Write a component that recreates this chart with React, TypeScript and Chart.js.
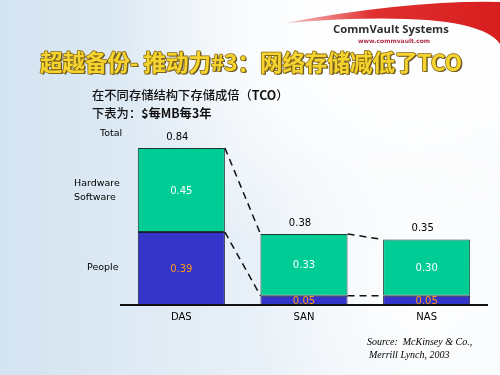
import React, { useEffect, useRef } from "react";
import { Chart, registerables } from "chart.js";

Chart.register(...registerables);

const categories = ["DAS", "SAN", "NAS"];
const peopleValues = [0.39, 0.05, 0.05];
const hwswValues = [0.45, 0.33, 0.3];
const totalLabels = ["0.84", "0.38", "0.35"];
const peopleLabels = ["0.39", "0.05", "0.05"];
const hwswLabels = ["0.45", "0.33", "0.30"];
const rowLabels = { total: "Total", hw: ["Hardware", "Software"], people: "People" };
const titleText = "超越备份- 推动力#3：网络存储减低了TCO";
const subtitle1Runs: [string, boolean][] = [["在不同存储结构下存储成倍（", false], ["TCO", true], ["）", false]];
const subtitle2Runs: [string, boolean][] = [["下表为：", false], ["$每MB每3年", true]];
const sourceLines = ["Source:  McKinsey & Co.,", "Merrill Lynch, 2003"];

const BLUE = "#3434C8";
const GREEN = "#00CC96";
const ORANGE = "#FF9A10";

function drawRuns(ctx: CanvasRenderingContext2D, runs: [string, boolean][], x: number, y: number) {
  let cx = x;
  for (const [t, b] of runs) {
    ctx.font = (b ? "bold " : "500 ") + "12.3px 'Noto Sans CJK SC', sans-serif";
    ctx.fillText(t, cx, y);
    cx += ctx.measureText(t).width;
  }
}

const decorPlugin = {
  id: "decor",
  beforeDraw(chart: any) {
    const ctx = chart.ctx as CanvasRenderingContext2D;
    const W = chart.width, H = chart.height;
    ctx.save();
    // background
    const g = ctx.createLinearGradient(0, 0, W, 0);
    g.addColorStop(0, "#d3e3f0");
    g.addColorStop(0.45, "#e6eff7");
    g.addColorStop(1, "#f6f9fc");
    ctx.fillStyle = g;
    ctx.fillRect(0, 0, W, H);
    const r = ctx.createRadialGradient(380, 20, 10, 380, 20, 260);
    r.addColorStop(0, "rgba(255,255,255,1)");
    r.addColorStop(0.5, "rgba(255,255,255,0.75)");
    r.addColorStop(1, "rgba(255,255,255,0)");
    ctx.fillStyle = r;
    ctx.fillRect(0, 0, W, H);
    const r2 = ctx.createRadialGradient(420, 300, 10, 420, 300, 170);
    r2.addColorStop(0, "rgba(255,255,255,0.9)");
    r2.addColorStop(1, "rgba(255,255,255,0)");
    ctx.fillStyle = r2;
    ctx.fillRect(0, 0, W, H);
    // red swoosh
    ctx.beginPath();
    ctx.moveTo(285, 23);
    ctx.quadraticCurveTo(410, 0, 500, 2);
    ctx.lineTo(500, 44);
    ctx.quadraticCurveTo(475, 8, 285, 23);
    ctx.closePath();
    const rg = ctx.createLinearGradient(285, 0, 500, 0);
    rg.addColorStop(0, "rgba(230,60,60,0.3)");
    rg.addColorStop(0.4, "#e03030");
    rg.addColorStop(1, "#d81e1e");
    ctx.fillStyle = rg;
    ctx.fill();
    // logo
    ctx.textBaseline = "middle";
    ctx.textAlign = "left";
    ctx.fillStyle = "#2f2f2f";
    ctx.font = "bold 11.3px 'Open Sans', 'DejaVu Sans', sans-serif";
    ctx.fillText("CommVault Systems", 333, 30);
    ctx.fillStyle = "#b0304a";
    ctx.font = "bold 6px 'DejaVu Sans', sans-serif";
    ctx.fillText("www.commvault.com", 358, 41);
    // title
    ctx.font = "bold 22.5px 'Noto Sans CJK SC', sans-serif";
    ctx.textAlign = "center";
    ctx.lineJoin = "round";
    ctx.fillStyle = "#5a5030";
    ctx.fillText(titleText, 252.5, 63.5);
    ctx.lineWidth = 1.6;
    ctx.strokeStyle = "#8a6a10";
    ctx.strokeText(titleText, 251, 62);
    ctx.fillStyle = "#f5d430";
    ctx.fillText(titleText, 251, 62);
    // subtitles
    ctx.textAlign = "left";
    ctx.fillStyle = "#111";
    drawRuns(ctx, subtitle1Runs, 92, 95);
    drawRuns(ctx, subtitle2Runs, 92, 113);
    ctx.restore();
  },
  afterDatasetsDraw(chart: any) {
    const ctx = chart.ctx as CanvasRenderingContext2D;
    const x = chart.scales.x;
    const y = chart.scales.y;
    const m0 = chart.getDatasetMeta(0).data.map((b: any) => b.getProps(["x", "y", "base", "width"], true));
    const m1 = chart.getDatasetMeta(1).data.map((b: any) => b.getProps(["x", "y", "base", "width"], true));
    ctx.save();
    // dashed connectors
    ctx.strokeStyle = "#111";
    ctx.lineWidth = 1.5;
    ctx.setLineDash([7, 5]);
    for (let i = 0; i < categories.length - 1; i++) {
      const a0 = m0[i], b0 = m0[i + 1], a1 = m1[i], b1 = m1[i + 1];
      ctx.beginPath();
      ctx.moveTo(a1.x + a1.width / 2, a1.y);
      ctx.lineTo(b1.x - b1.width / 2, b1.y);
      ctx.moveTo(a0.x + a0.width / 2, a0.y);
      ctx.lineTo(b0.x - b0.width / 2, b0.y);
      ctx.stroke();
    }
    ctx.setLineDash([]);
    // baseline
    const by = y.getPixelForValue(0);
    ctx.lineWidth = 2;
    ctx.beginPath();
    ctx.moveTo(chart.chartArea.left, by);
    ctx.lineTo(chart.chartArea.right, by);
    ctx.stroke();
    // value labels
    ctx.textAlign = "center";
    ctx.textBaseline = "middle";
    ctx.font = "10px 'DejaVu Sans', sans-serif";
    for (let i = 0; i < categories.length; i++) {
      const p = m0[i], h = m1[i];
      ctx.fillStyle = ORANGE;
      ctx.fillText(peopleLabels[i], p.x, (p.y + p.base) / 2 + 1);
      ctx.fillStyle = "#ffffff";
      ctx.fillText(hwswLabels[i], h.x, (h.y + h.base) / 2 + 1);
      ctx.fillStyle = "#000";
      ctx.fillText(totalLabels[i], h.x - 4, h.y - 11);
      ctx.fillText(categories[i], x.getPixelForValue(i), by + 12);
    }
    // row labels
    ctx.font = "9.5px 'DejaVu Sans', sans-serif";
    ctx.textAlign = "left";
    ctx.fillStyle = "#000";
    ctx.fillText(rowLabels.total, 100, 134);
    ctx.fillText(rowLabels.hw[0], 74, 184);
    ctx.fillText(rowLabels.hw[1], 74, 198);
    ctx.fillText(rowLabels.people, 87, 268);
    // source
    ctx.font = "italic 10px 'Liberation Serif', serif";
    ctx.fillText(sourceLines[0], 367, 342);
    ctx.fillText(sourceLines[1], 369, 355);
    ctx.restore();
  },
};

export default function App() {
  const ref = useRef<HTMLCanvasElement | null>(null);
  useEffect(() => {
    if (!ref.current) return;
    const chart = new Chart(ref.current, {
      type: "bar",
      data: {
        labels: categories,
        datasets: [
          {
            label: "People",
            data: peopleValues,
            backgroundColor: BLUE,
            borderColor: "#1a1a3a",
            borderWidth: 1,
            borderSkipped: false,
            barPercentage: 0.71,
            categoryPercentage: 1,
          },
          {
            label: "Hardware Software",
            data: hwswValues,
            backgroundColor: GREEN,
            borderColor: "#1a3a30",
            borderWidth: 1,
            borderSkipped: false,
            barPercentage: 0.71,
            categoryPercentage: 1,
          },
        ],
      },
      options: {
        responsive: false,
        animation: false,
        layout: { padding: { left: 120, right: 12, top: 118, bottom: 70 } },
        plugins: { legend: { display: false }, tooltip: { enabled: false } },
        scales: {
          x: { stacked: true, display: false },
          y: { stacked: true, display: false, min: 0, max: 1 },
        },
      },
      plugins: [decorPlugin],
    });
    return () => chart.destroy();
  }, []);
  return (
    <div style={{ position: "absolute", left: 0, top: 0, width: 500, height: 375 }}>
      <canvas ref={ref} width={500} height={375} />
    </div>
  );
}
